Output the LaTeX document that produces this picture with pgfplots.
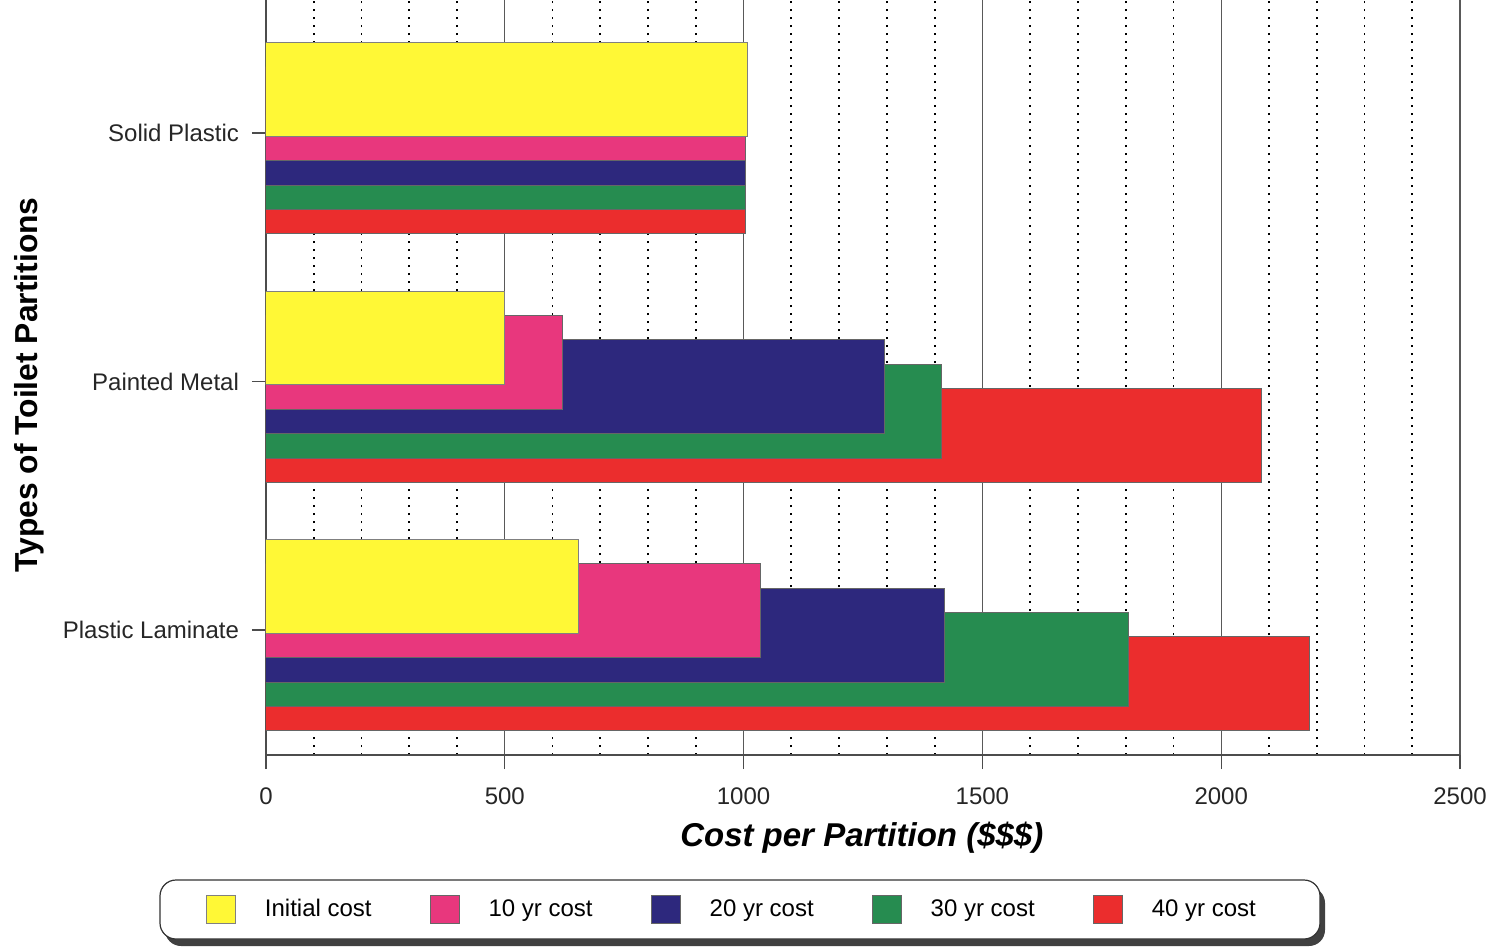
\documentclass[border=0pt]{standalone}
\usepackage{pgfplots}
\pgfplotsset{compat=1.18}
\usepackage{fontspec}
\setmainfont{Liberation Sans}
\usetikzlibrary{shadows}

\definecolor{cInit}{RGB}{255,248,54}
\definecolor{cTen}{RGB}{232,55,125}
\definecolor{cTwenty}{RGB}{45,40,125}
\definecolor{cThirty}{RGB}{38,140,80}
\definecolor{cForty}{RGB}{235,45,45}

\begin{document}
\begin{tikzpicture}
\path[use as bounding box] (-133pt,-97pt) rectangle (613pt,377.5pt);
% legend frame with its shadow, drawn first so the legend sits on it
\draw[black!80, line width=0.6pt, rounded corners=8pt, fill=white,
      drop shadow={shadow xshift=2.5pt, shadow yshift=-3.5pt, fill=black!75, opacity=1}]
    (-53pt,-92pt) rectangle (527pt,-62.5pt);
\begin{axis}[
    at={(0,0)}, anchor=south west,
    scale only axis,
    width=597pt, height=377.5pt,
    xmin=0, xmax=2500,
    ymin=-0.503, ymax=2.535,
    xtick={0,500,...,2500},
    minor x tick num=4,
    ytick={0,1,2},
    yticklabels={Plastic Laminate, Painted Metal, Solid Plastic},
    axis lines*=left,
    axis line style={black!70, line width=0.6pt},
    tick align=outside,
    major tick length=7pt,
    minor tick length=0pt,
    tick style={black!70, line width=0.6pt},
    xmajorgrids=true,
    xminorgrids=true,
    major grid style={black!65, line width=0.6pt},
    minor grid style={black, line width=0.9pt, dash pattern=on 0.9pt off 3.1pt},
    /pgf/number format/assume math mode=true,
    /pgf/number format/1000 sep={},
    ticklabel style={font=\fontsize{12}{14}\selectfont, text=black!85},
    xticklabel style={yshift=-6pt},
    yticklabel style={xshift=-3pt},
    xlabel={\textbf{\textit{Cost per Partition (\$\$\$)}}},
    xlabel style={font=\fontsize{16.5}{18}\selectfont, at={(axis description cs:0.499,-0.11)}, anchor=center},
    ylabel={\textbf{Types of Toilet Partitions}},
    ylabel style={font=\fontsize{15.9}{17}\selectfont, at={(axis description cs:-0.1985,0.49)}, anchor=center},
    xbar,
    bar width=0.378,
    every axis plot/.append style={draw=black!60, line width=0.5pt},
    reverse legend,
    legend columns=5,
    legend style={
        at={(axis description cs:0.391,-0.2046)}, anchor=center,
        draw=none, fill=none,
        font=\fontsize{12}{14}\selectfont,
        /tikz/every odd column/.append style={column sep=12.5pt},
        /tikz/every even column/.append style={column sep=27pt},
    },
    legend cell align=left,
    legend image code/.code={\draw[#1, line width=0.5pt, sharp corners] (0pt,-7.2pt) rectangle (14.5pt,7.2pt);},
]
% drawn back to front: 40 yr first, initial cost last
\addplot[fill=cForty, bar shift=-0.217] coordinates {(2185,0) (2085,1) (1005,2)};
\addlegendentry{40 yr cost}
\addplot[fill=cThirty, bar shift=-0.119] coordinates {(1805,0) (1415,1) (1005,2)};
\addlegendentry{30 yr cost}
\addplot[fill=cTwenty, bar shift=-0.021] coordinates {(1420,0) (1295,1) (1005,2)};
\addlegendentry{20 yr cost}
\addplot[fill=cTen, bar shift=0.077] coordinates {(1035,0) (620,1) (1005,2)};
\addlegendentry{10 yr cost}
\addplot[fill=cInit, draw=black!50, bar shift=0.175] coordinates {(655,0) (500,1) (1008,2)};
\addlegendentry{Initial cost}
\end{axis}
\end{tikzpicture}
\end{document}
